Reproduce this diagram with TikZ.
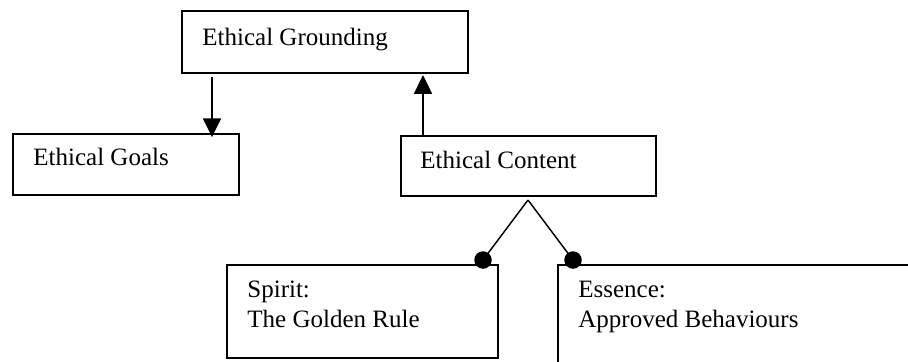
\documentclass[tikz,border=0pt]{standalone}
\usepackage{fontspec}
\setmainfont{Liberation Serif}
\usetikzlibrary{arrows.meta}
\tikzstyle{box}=[rectangle,draw=black,line width=0.7pt,inner sep=0pt,outer sep=0pt]
\tikzstyle{txt}=[anchor=base west,inner sep=0pt,align=left,font=\fontsize{12}{14.4}\selectfont]
\tikzstyle{dot}=[circle,fill=black,inner sep=0pt,minimum size=8.4pt]
\tikzstyle{arr}=[-{Triangle[width=8.6pt,length=9pt]},line width=0.8pt]
\tikzstyle{none}=[]

\begin{document}
\begin{tikzpicture}[x=0.48pt, y=-0.48pt]
  \useasboundingbox (0, 0) rectangle (908, 362);
  \clip (0, 0) rectangle (908, 362);
  \node [style=box, minimum width=137.28pt, minimum height=29.76pt] (1) at (325, 42) {};
  \node [style=box, minimum width=108.48pt, minimum height=29.28pt] (2) at (126, 164.5) {};
  \node [style=box, minimum width=122.4pt, minimum height=28.8pt] (3) at (528.5, 166) {};
  \node [style=box, minimum width=130.08pt, minimum height=44.64pt] (4) at (362.5, 311.5) {};
  \node [style=box, minimum width=212.16pt, minimum height=74.4pt] (5) at (779, 342.5) {};
  \node [style=txt] (11) at (202, 45) {Ethical Grounding};
  \node [style=txt] (12) at (33, 165) {Ethical Goals};
  \node [style=txt] (13) at (420, 168) {Ethical Content};
  \node [style=txt] (14) at (247, 327) {Spirit:\\The Golden Rule};
  \node [style=txt] (15) at (578, 327) {Essence:\\Approved Behaviours};
  \node [style=dot] (6) at (483, 260) {};
  \node [style=dot] (7) at (573, 260) {};
  \coordinate (a) at (212, 77);
  \coordinate (b) at (423, 75);
  \coordinate (c) at (528, 200);
  \draw [style=arr] (a) to ([yshift=-1.5pt]a |- 2.north);
  \draw [style=arr] (b |- 3.north) to (b);
  \draw [line width=0.7pt] (c) to (6.center);
  \draw [line width=0.7pt] (c) to (7.center);
\end{tikzpicture}
\end{document}
